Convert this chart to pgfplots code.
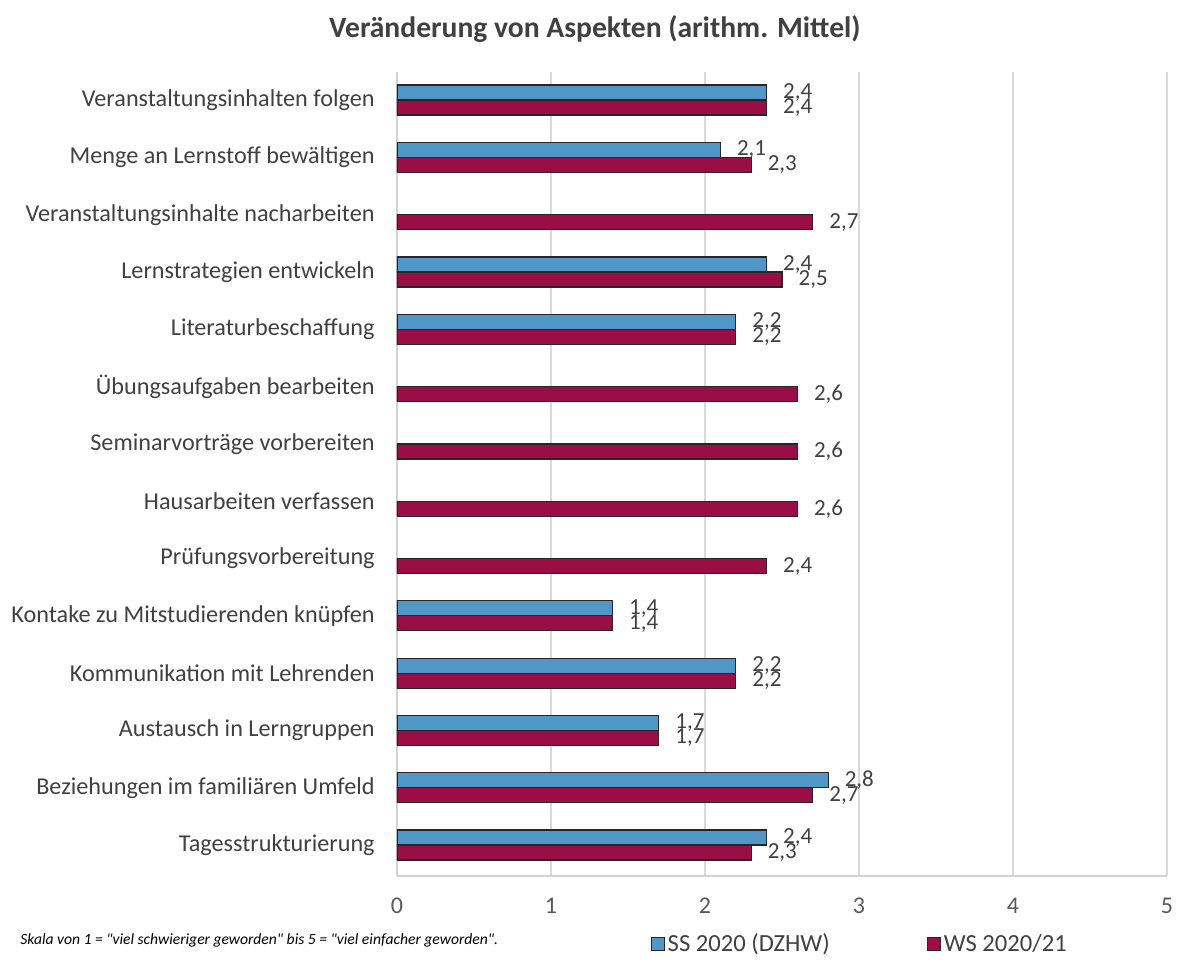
\documentclass[border=0pt]{standalone}
\usepackage{fontspec}
\setmainfont{Carlito}
\usepackage{pgfplots}
\pgfplotsset{compat=1.18}
\definecolor{ssblue}{RGB}{80,151,200}
\definecolor{wsred}{RGB}{155,14,69}
\definecolor{txt}{RGB}{64,64,64}
\definecolor{tick}{RGB}{89,89,89}
\begin{document}
\begin{tikzpicture}
\begin{axis}[
  name=ax,
  scale only axis,
  width=385pt, height=402pt,
  xbar,
  bar width=7.5pt,
  xmin=0, xmax=5,
  ymin=-0.54, ymax=13.49,
  xtick={0,1,2,3,4,5},
  ytick={0,1,2,3,4,5,6,7,8,9,10,11,12,13},
  yticklabels={Tagesstrukturierung,
    Beziehungen im familiären Umfeld,
    Austausch in Lerngruppen,
    Kommunikation mit Lehrenden,
    Kontake zu Mitstudierenden knüpfen,
    Prüfungsvorbereitung,
    Hausarbeiten verfassen,
    Seminarvorträge vorbereiten,
    Übungsaufgaben bearbeiten,
    Literaturbeschaffung,
    Lernstrategien entwickeln,
    Veranstaltungsinhalte nacharbeiten,
    Menge an Lernstoff bewältigen,
    Veranstaltungsinhalten folgen\ },
  /pgf/number format/assume math mode=true,
  xticklabel style={font=\fontsize{12}{14}\selectfont, color=tick, anchor=base, yshift=-18.5pt},
  yticklabel style={font=\fontsize{12.1}{14}\selectfont, color=txt, anchor=east, inner sep=0pt, xshift=-11pt},
  xmajorgrids,
  grid style={draw=gray!30, line width=0.6pt},
  axis lines*=left,
  axis line style={draw=gray!35, line width=0.8pt, -},
  major tick length=0pt,
  tick style={draw=none},
  point meta=x,
  nodes near coords={\pgfmathprintnumber[use comma, fixed, fixed zerofill, precision=1, assume math mode=true]{\pgfplotspointmeta}},
  nodes near coords style={font=\fontsize{11.5}{13}\selectfont, color=txt, anchor=west, inner sep=0pt, xshift=8pt},
  title={\textbf{Veränderung von Aspekten (arithm. Mittel)}},
  title style={font=\fontsize{14.8}{17}\selectfont, color=txt, at={(0.257,1)}, anchor=south, yshift=5pt},
  legend columns=2,
  legend style={draw=none, fill=none, at={(0.329,0)}, anchor=west, yshift=-34pt, inner sep=0pt,
    font=\fontsize{12.3}{14}\selectfont, text=txt,
    nodes={inner sep=1.5pt},
    /tikz/every even column/.append style={column sep=47pt}},
  legend image code/.code={\draw[#1, draw=black!85, line width=0.5pt] (0pt,-3.25pt) rectangle (6.5pt,3.25pt);},
]
\addplot[fill=ssblue, draw=black!85, line width=0.6pt, bar shift=3.75pt] coordinates {
  (2.4,0) (2.8,1) (1.7,2) (2.2,3) (1.4,4) (2.2,9) (2.4,10) (2.1,12) (2.4,13)
};
\addplot[fill=wsred, draw=black!85, line width=0.6pt, bar shift=-3.75pt] coordinates {
  (2.3,0) (2.7,1) (1.7,2) (2.2,3) (1.4,4) (2.4,5) (2.6,6) (2.6,7) (2.6,8) (2.2,9) (2.5,10) (2.7,11) (2.3,12) (2.4,13)
};
\legend{SS 2020 (DZHW), WS 2020/21}
\end{axis}
\node[anchor=west, inner sep=0pt, font=\fontsize{7.8}{10}\selectfont\itshape\addfontfeatures{Ligatures=TeXOff}, text=black]
  at ([xshift=-188.5pt, yshift=-32pt]ax.south west)
  {Skala von 1 = "viel schwieriger geworden" bis 5 = "viel einfacher geworden".};
\pgfresetboundingbox
\useasboundingbox ([xshift=-198.5pt,yshift=-44.5pt]ax.south west) rectangle ([xshift=7pt,yshift=36pt]ax.north east);
\end{tikzpicture}
\end{document}
